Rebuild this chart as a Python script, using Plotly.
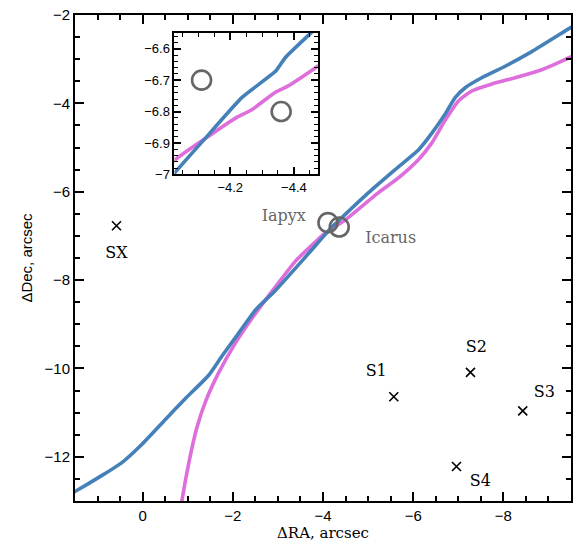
import plotly.graph_objects as go

# Blue curve
blue_x = [1.60, 1.51, 0.90, 0.46, 0.02, -0.50, -0.95, -1.46, -1.76, -2.13, -2.50, -2.94, -3.53,
          -4.026, -4.113, -4.238, -4.343, -4.374, -4.452,
          -5.01, -5.60, -6.12, -6.41, -6.71, -6.93, -7.16, -7.52, -8.04, -8.63, -9.50, -9.60]
blue_y = [-12.84, -12.79, -12.42, -12.13, -11.72, -11.16, -10.68, -10.16, -9.72, -9.20, -8.68, -8.24, -7.57,
          -6.994, -6.895, -6.754, -6.671, -6.627, -6.551,
          -6.02, -5.50, -5.05, -4.68, -4.24, -3.87, -3.64, -3.42, -3.16, -2.83, -2.28, -2.22]

# Magenta curve
mag_x = [-0.84, -0.87, -1.02, -1.20, -1.39, -1.69, -2.06, -2.50, -2.94, -3.39,
         -4.026, -4.124, -4.223, -4.265, -4.343, -4.379, -4.476,
         -5.23, -5.68, -6.12, -6.41, -6.71, -7.01, -7.30, -7.75, -8.26, -8.85, -9.50, -9.60]
mag_y = [-13.2, -13.0, -12.16, -11.35, -10.76, -10.09, -9.42, -8.76, -8.16, -7.57,
         -6.954, -6.884, -6.817, -6.796, -6.738, -6.72, -6.655,
         -6.02, -5.68, -5.27, -4.90, -4.38, -3.94, -3.72, -3.56, -3.42, -3.24, -2.95, -2.91]

# Asteroids
ast_names = ["Iapyx", "Icarus"]
ast_x = [-4.11, -4.36]
ast_y = [-6.70, -6.80]
ast_label_x = [-3.13, -5.50]
ast_label_y = [-6.58, -7.07]

# Stars
star_names = ["SX", "S1", "S2", "S3", "S4"]
star_x = [0.58, -5.57, -7.27, -8.43, -6.96]
star_y = [-6.77, -10.64, -10.09, -10.96, -12.22]
star_label_x = [0.58, -5.18, -7.40, -8.91, -7.49]
star_label_y = [-7.42, -10.07, -9.53, -10.55, -12.56]

BLUE = "#4581b8"
MAG = "#dd6edb"
GRAY = "#666666"

fig = go.Figure()
for ax, ay in [("x", "y"), ("x2", "y2")]:
    fig.add_trace(go.Scatter(x=mag_x, y=mag_y, mode="lines", line=dict(color=MAG, width=3.6, shape="spline", smoothing=0.5),
                             xaxis=ax, yaxis=ay, showlegend=False, hoverinfo="skip"))
    fig.add_trace(go.Scatter(x=blue_x, y=blue_y, mode="lines", line=dict(color=BLUE, width=3.6, shape="spline", smoothing=0.5),
                             xaxis=ax, yaxis=ay, showlegend=False, hoverinfo="skip"))
    fig.add_trace(go.Scatter(x=ast_x, y=ast_y, mode="markers",
                             marker=dict(symbol="circle-open", size=19, color=GRAY, line=dict(width=2.6, color=GRAY)),
                             xaxis=ax, yaxis=ay, showlegend=False, hoverinfo="skip"))

fig.add_trace(go.Scatter(x=star_x, y=star_y, mode="markers",
                         marker=dict(symbol="x-thin", size=9, line=dict(width=1.6, color="black")),
                         showlegend=False, hoverinfo="skip"))
fig.add_trace(go.Scatter(x=star_label_x, y=star_label_y, mode="text", text=star_names,
                         textfont=dict(family="DejaVu Serif", size=16, color="black"), showlegend=False, hoverinfo="skip"))
fig.add_trace(go.Scatter(x=ast_label_x, y=ast_label_y, mode="text", text=ast_names,
                         textfont=dict(family="DejaVu Serif", size=16, color=GRAY), showlegend=False, hoverinfo="skip"))

fig.update_layout(
    width=579, height=549,
    margin=dict(l=75, r=8, t=6, b=48),
    paper_bgcolor="white", plot_bgcolor="white",
    xaxis=dict(range=[1.5, -9.5], dtick=2, tick0=0,
               tickfont=dict(family="Liberation Sans", size=15, color="black"),
               title=dict(text="ΔRA, arcsec", font=dict(family="DejaVu Serif", size=15, color="black"), standoff=2)),
    yaxis=dict(range=[-13, -2], dtick=2, tick0=0,
               tickfont=dict(family="Liberation Sans", size=15, color="black"),
               title=dict(text="ΔDec, arcsec", font=dict(family="Liberation Sans", size=15, color="black"), standoff=8)),
    xaxis2=dict(domain=[0.2006, 0.4895], anchor="y2", range=[-4.025, -4.475], dtick=0.2, tick0=0,
                tickfont=dict(family="Liberation Sans", size=13, color="black")),
    yaxis2=dict(domain=[0.672, 0.963], anchor="x2", range=[-7.0, -6.5499], dtick=0.1, tick0=0,
                tickfont=dict(family="Liberation Sans", size=13, color="black")),
)
axis_style = dict(showgrid=True, gridcolor="rgba(0,0,0,0)", zeroline=False, showline=True,
                  linecolor="black", linewidth=2, mirror="allticks", ticks="inside",
                  tickcolor="#000000", tickwidth=2, ticklabeloverflow="allow")
fig.update_xaxes(**axis_style)
fig.update_yaxes(**axis_style)
fig.update_layout(
    xaxis=dict(ticklen=9, minor=dict(dtick=0.5, ticklen=5, ticks="inside", tickcolor="#000000", tickwidth=1.5)),
    yaxis=dict(ticklen=9, minor=dict(dtick=0.5, ticklen=5, ticks="inside", tickcolor="#000000", tickwidth=1.5)),
    xaxis2=dict(ticklen=7, minor=dict(dtick=0.05, ticklen=4, ticks="inside", tickcolor="#000000", tickwidth=1.2)),
    yaxis2=dict(ticklen=7, minor=dict(dtick=0.02, ticklen=4, ticks="inside", tickcolor="#000000", tickwidth=1.2)),
)

fig.write_html("out.html", config={"displayModeBar": False},
               post_script="document.body.style.margin='0';")
